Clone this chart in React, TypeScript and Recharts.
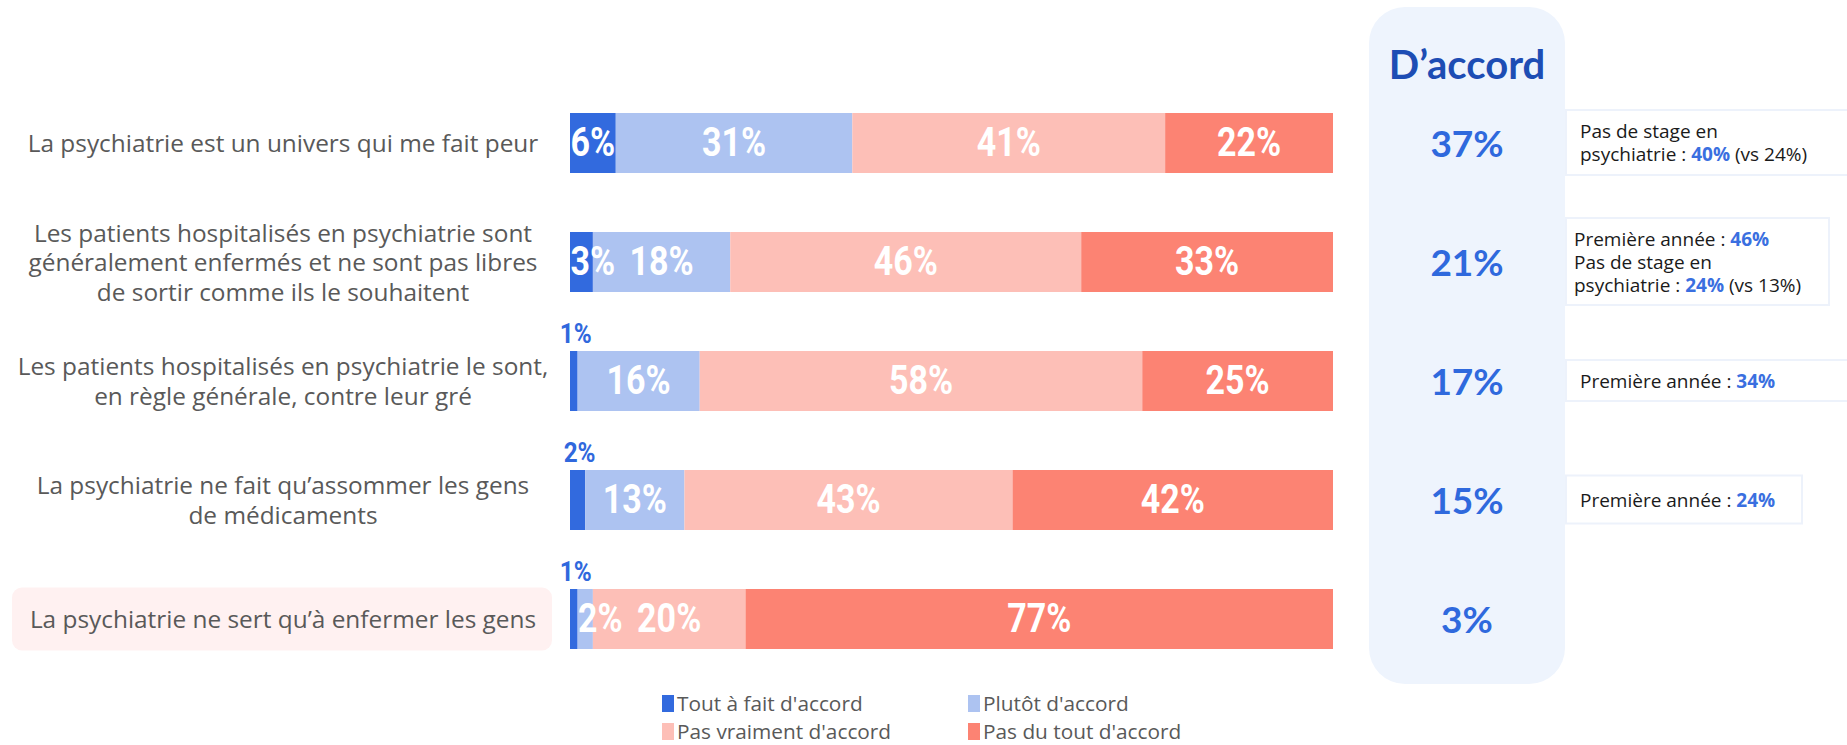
import React from "react";
import { Bar, BarChart, LabelList, XAxis, YAxis } from "recharts";

const categories = [
  ["La psychiatrie est un univers qui me fait peur"],
  [
    "Les patients hospitalisés en psychiatrie sont",
    "généralement enfermés et ne sont pas libres",
    "de sortir comme ils le souhaitent",
  ],
  ["Les patients hospitalisés en psychiatrie le sont,", "en règle générale, contre leur gré"],
  ["La psychiatrie ne fait qu’assommer les gens", "de médicaments"],
  ["La psychiatrie ne sert qu’à enfermer les gens"],
];

const toutAFait = [6, 3, 1, 2, 1];
const plutot = [31, 18, 16, 13, 2];
const pasVraiment = [41, 46, 58, 43, 20];
const pasDuTout = [22, 33, 25, 42, 77];
const agree = [37, 21, 17, 15, 3];

// every line: even index = normal text, odd index = bold blue value
const notes: string[][][] = [
  [["Pas de stage en"], ["psychiatrie : ", "40%", " (vs 24%)"]],
  [["Première année : ", "46%"], ["Pas de stage en"], ["psychiatrie : ", "24%", " (vs 13%)"]],
  [["Première année : ", "34%"]],
  [["Première année : ", "24%"]],
  [],
];
const noteBoxes = [
  { w: 290, h: 65 },
  { w: 263, h: 87 },
  { w: 290, h: 41 },
  { w: 236, h: 48 },
];

const series = [
  { key: "s0", name: "Tout à fait d'accord", color: "#326ade", values: toutAFait },
  { key: "s1", name: "Plutôt d'accord", color: "#adc3f1", values: plutot },
  { key: "s2", name: "Pas vraiment d'accord", color: "#fdbfb7", values: pasVraiment },
  { key: "s3", name: "Pas du tout d'accord", color: "#fc8373", values: pasDuTout },
];

const data = categories.map((lines, i) => {
  const row: Record<string, any> = { label: lines.join(" "), idx: i };
  series.forEach((s) => (row[s.key] = s.values[i]));
  return row;
});

const W = 1847;
const H = 745;
const LABEL_FONT = "'Open Sans', 'DejaVu Sans', sans-serif";
const NUM_FONT = "Roboto, 'DejaVu Sans', sans-serif";
const BOLD_FONT = "Lato, 'Open Sans', sans-serif";
const NUM_SIZE = 40;
const NUM_SX = 0.85;

const LeftTick = (props: any) => {
  const { y, payload } = props;
  const i = payload.index;
  const lines = categories[i];
  const lh = 29.5;
  const start = y - ((lines.length - 1) * lh) / 2;
  return (
    <g>
      {i === 4 && <rect x={12} y={y - 31} width={540} height={63} rx={10} fill="#fff1f1" />}
      {lines.map((l, k) => (
        <text
          key={k}
          x={283}
          y={start + k * lh}
          textAnchor="middle"
          dominantBaseline="central"
          fontFamily={LABEL_FONT}
          fontSize={24.4}
          fill="#595959"
        >
          {l}
        </text>
      ))}
    </g>
  );
};

const RightTick = (props: any) => {
  const { y, payload } = props;
  const i = payload.index;
  const lines = notes[i];
  const box = noteBoxes[i];
  const lh = 23;
  const start = y - ((lines.length - 1) * lh) / 2;
  return (
    <g>
      <text
        x={1467}
        y={y}
        textAnchor="middle"
        dominantBaseline="central"
        fontFamily={BOLD_FONT}
        fontWeight={700}
        fontSize={37}
        fill="#2f69dd"
      >
        {agree[i]}%
      </text>
      {box && (
        <rect x={1566} y={y - box.h / 2} width={box.w} height={box.h} fill="#fff" stroke="#edf2fb" strokeWidth={2} />
      )}
      {lines.map((segs, k) => (
        <text
          key={k}
          x={i === 1 ? 1574 : 1580}
          y={start + k * lh}
          dominantBaseline="central"
          fontFamily={LABEL_FONT}
          fontSize={19}
          fill="#1a1a1a"
        >
          {segs.map((s, j) => (
            <tspan key={j} fontWeight={j % 2 ? 700 : 400} fill={j % 2 ? "#3a6fe0" : "#1a1a1a"}>
              {s}
            </tspan>
          ))}
        </text>
      ))}
    </g>
  );
};

const NumText = ({ cx, cy, size, sx, fill, children }: any) => (
  <text
    transform={`translate(${cx},${cy}) scale(${sx},1)`}
    x={0}
    y={0}
    textAnchor="middle"
    dominantBaseline="central"
    fontFamily={NUM_FONT}
    fontWeight={700}
    fontSize={size}
    fill={fill}
  >
    {children}
  </text>
);

// all segment labels are drawn from the last bar so that no later segment covers them
const AllLabels = (props: any) => {
  const { x, y, width, height, value, index } = props;
  if (value == null || !width) return null;
  const i = index ?? 0;
  const ppu = width / value;
  const vals = series.map((s) => s.values[i]);
  let left = x - (vals[0] + vals[1] + vals[2]) * ppu;
  const out: React.ReactNode[] = [];
  vals.forEach((v, k) => {
    const w = v * ppu;
    if (k === 0 && v < 3) {
      out.push(
        <NumText key={k} cx={left + w / 2 + 2} cy={y - 17} size={27} sx={0.9} fill="#3068dd">
          {v}%
        </NumText>
      );
    } else {
      const labelW = (String(v).length * 0.56 + 0.78) * NUM_SIZE * NUM_SX;
      const cx = labelW > w ? left + labelW / 2 : left + w / 2;
      out.push(
        <NumText key={k} cx={cx} cy={y + height / 2} size={NUM_SIZE} sx={NUM_SX} fill="#ffffff">
          {v}%
        </NumText>
      );
    }
    left += w;
  });
  return <g>{out}</g>;
};

export default function App() {
  return (
    <div style={{ position: "absolute", left: 0, top: 0, width: W, height: H, background: "#fff", overflow: "hidden" }}>
      <div
        style={{
          position: "absolute",
          left: 1369,
          top: 7,
          width: 196,
          height: 677,
          borderRadius: 36,
          background: "#eef4fd",
        }}
      />
      <div
        style={{
          position: "absolute",
          left: 1369,
          top: 40,
          width: 196,
          textAlign: "center",
          fontFamily: BOLD_FONT,
          fontWeight: 700,
          fontSize: 40,
          lineHeight: "48px",
          color: "#1d4db4",
        }}
      >
        D’accord
      </div>
      <div style={{ position: "absolute", left: 0, top: 0 }}>
        <BarChart
          width={W}
          height={H}
          data={data}
          layout="vertical"
          margin={{ top: 83, right: 0, bottom: 67, left: 0 }}
          barSize={60}
        >
          <XAxis type="number" domain={[0, 100]} hide />
          <YAxis
            type="category"
            dataKey="label"
            width={570}
            axisLine={false}
            tickLine={false}
            tick={<LeftTick />}
            interval={0}
          />
          <YAxis
            yAxisId="right"
            type="category"
            dataKey="label"
            orientation="right"
            width={514}
            axisLine={false}
            tickLine={false}
            tick={<RightTick />}
            interval={0}
          />
          {series.map((s, si) => (
            <Bar key={s.key} dataKey={s.key} name={s.name} stackId="a" fill={s.color} isAnimationActive={false}>
              {si === series.length - 1 && <LabelList dataKey={s.key} content={AllLabels} />}
            </Bar>
          ))}
        </BarChart>
      </div>
      {series.map((s, i) => (
        <div
          key={s.key}
          style={{
            position: "absolute",
            left: i % 2 === 0 ? 662 : 968,
            top: i < 2 ? 690 : 718,
            height: 27,
            display: "flex",
            alignItems: "center",
            fontFamily: LABEL_FONT,
            fontSize: 20.8,
            lineHeight: "27px",
            color: "#595959",
            whiteSpace: "nowrap",
          }}
        >
          <span style={{ display: "inline-block", width: 12, height: 17, background: s.color, marginRight: 3 }} />
          {s.name}
        </div>
      ))}
    </div>
  );
}
